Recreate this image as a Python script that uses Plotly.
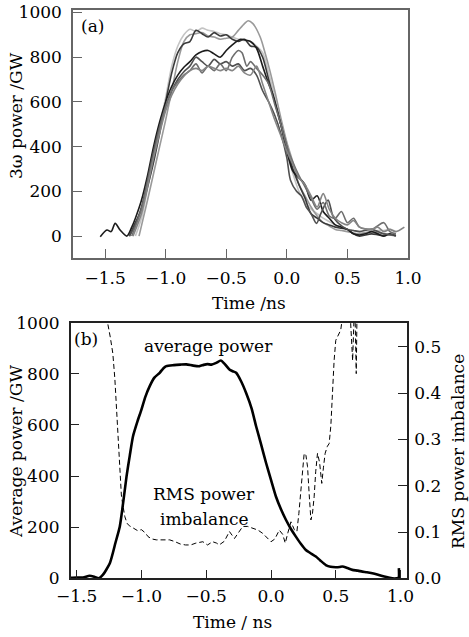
import plotly.graph_objects as go

W, H = 469, 637

# ---------------- panel (a): seven 3w power traces ----------------
a1_t = [-1.25, -1.2, -1.15, -1.1, -1.05, -1.0, -0.95, -0.9, -0.85, -0.8, -0.75, -0.7, -0.65, -0.6, -0.55, -0.5, -0.45, -0.4, -0.35, -0.3, -0.25, -0.2, -0.15, -0.1, -0.05, 0.0, 0.05, 0.1, 0.15, 0.2, 0.25, 0.3, 0.35, 0.4, 0.45, 0.5, 0.55, 0.6, 0.65, 0.7, 0.75, 0.8, 0.85, 0.9]
a1_p = [0, 80, 210, 350, 490, 620, 760, 850, 900, 925, 915, 930, 920, 915, 905, 900, 890, 880, 875, 870, 850, 820, 730, 620, 500, 380, 280, 200, 150, 120, 100, 80, 65, 50, 40, 30, 25, 20, 15, 20, 25, 25, 30, 20]

a2_t = [-1.22, -1.15, -1.1, -1.05, -1.0, -0.95, -0.9, -0.85, -0.8, -0.75, -0.7, -0.65, -0.6, -0.55, -0.5, -0.45, -0.4, -0.35, -0.32, -0.28, -0.22, -0.18, -0.14, -0.1, -0.05, 0.0, 0.05, 0.1, 0.15, 0.2, 0.25, 0.3, 0.35, 0.4, 0.45, 0.5, 0.6, 0.7, 0.75, 0.8, 0.85, 0.9]
a2_p = [0, 160, 280, 400, 520, 650, 780, 870, 900, 905, 910, 895, 890, 880, 885, 890, 920, 950, 963, 950, 890, 820, 740, 650, 530, 420, 330, 230, 180, 130, 90, 60, 45, 30, 25, 20, 10, 20, 15, 10, 5, 0]

a3_t = [-1.3, -1.25, -1.2, -1.15, -1.1, -1.05, -1.0, -0.95, -0.9, -0.85, -0.8, -0.75, -0.7, -0.65, -0.6, -0.55, -0.5, -0.45, -0.4, -0.35, -0.3, -0.25, -0.2, -0.15, -0.1, -0.05, 0.0, 0.05, 0.1, 0.15, 0.2, 0.25, 0.3, 0.35, 0.4, 0.45, 0.5, 0.55, 0.6, 0.7, 0.8]
a3_p = [0, 60, 120, 220, 330, 460, 600, 730, 820, 860, 870, 920, 905, 890, 910, 895, 900, 880, 870, 880, 850, 845, 800, 700, 600, 500, 400, 300, 230, 170, 100, 80, 60, 50, 40, 35, 30, 10, 0, 10, 0]

a4_t = [-1.54, -1.485, -1.45, -1.417, -1.376, -1.32, -1.28, -1.25, -1.2, -1.15, -1.1, -1.05, -1.0, -0.95, -0.9, -0.85, -0.8, -0.75, -0.7, -0.65, -0.6, -0.55, -0.5, -0.45, -0.4, -0.38, -0.33, -0.3, -0.25, -0.2, -0.15, -0.12, -0.05, 0.0, 0.05, 0.1, 0.12, 0.15, 0.2, 0.25, 0.3, 0.35, 0.4, 0.45, 0.5, 0.55, 0.6, 0.65, 0.7, 0.75, 0.8, 0.85, 0.9]
a4_p = [-3, 27, 20, 57, 27, 0, 40, 80, 160, 270, 400, 510, 600, 670, 720, 755, 780, 810, 825, 830, 815, 800, 830, 855, 875, 880, 875, 870, 840, 760, 680, 640, 500, 380, 290, 260, 250, 230, 160, 180, 110, 80, 50, 40, 30, 10, 5, 10, 20, 10, 0, 10, 0]

a5_t = [-1.3, -1.25, -1.2, -1.15, -1.1, -1.05, -1.0, -0.95, -0.9, -0.85, -0.8, -0.75, -0.7, -0.65, -0.6, -0.55, -0.5, -0.45, -0.4, -0.35, -0.3, -0.25, -0.2, -0.15, -0.1, -0.05, 0.0, 0.03, 0.08, 0.12, 0.16, 0.2, 0.245, 0.28, 0.34, 0.38, 0.42, 0.5, 0.55, 0.6, 0.7, 0.8, 0.9]
a5_p = [0, 50, 130, 250, 380, 490, 580, 650, 700, 735, 760, 800, 780, 760, 790, 770, 780, 760, 770, 740, 750, 720, 650, 600, 540, 460, 350, 250, 200, 180, 130, 100, 57, 100, 161, 90, 60, 30, 25, 20, 30, 10, 5]

a6_t = [-1.28, -1.2, -1.15, -1.1, -1.05, -1.0, -0.95, -0.9, -0.85, -0.8, -0.75, -0.7, -0.65, -0.6, -0.55, -0.5, -0.45, -0.4, -0.37, -0.33, -0.3, -0.25, -0.2, -0.15, -0.1, -0.05, 0.0, 0.05, 0.1, 0.15, 0.2, 0.25, 0.3, 0.35, 0.4, 0.45, 0.5, 0.55, 0.6, 0.7, 0.8, 0.85, 0.9]
a6_p = [0, 120, 240, 360, 480, 580, 650, 690, 720, 740, 770, 730, 760, 740, 770, 740, 800, 830, 820, 760, 780, 750, 720, 680, 590, 500, 400, 330, 270, 220, 170, 120, 150, 90, 80, 110, 60, 80, 40, 30, 60, 20, 10]

a7_t = [-1.27, -1.2, -1.15, -1.1, -1.05, -1.0, -0.95, -0.9, -0.85, -0.8, -0.75, -0.7, -0.65, -0.6, -0.55, -0.5, -0.45, -0.4, -0.35, -0.3, -0.25, -0.2, -0.15, -0.1, -0.05, 0.0, 0.05, 0.1, 0.15, 0.2, 0.25, 0.3, 0.35, 0.4, 0.45, 0.5, 0.55, 0.6, 0.7, 0.75, 0.8, 0.85, 0.9, 0.97]
a7_p = [0, 100, 220, 350, 460, 560, 630, 680, 715, 740, 750, 740, 760, 750, 740, 750, 740, 760, 730, 720, 760, 680, 600, 520, 450, 380, 320, 260, 230, 180, 130, 190, 120, 80, 60, 50, 70, 40, 30, 40, 20, 30, 20, 40]

a_colors = ["#c4c4c4", "#9a9a9a", "#3a3a3a", "#1c1c1c", "#505050", "#6e6e6e", "#858585"]

# ---------------- panel (b): average power and RMS imbalance ----------------
avg_t = [-1.55, -1.5, -1.45, -1.4, -1.36, -1.33, -1.3, -1.244, -1.2, -1.167, -1.14, -1.115, -1.09, -1.065, -1.03, -1.0, -0.97, -0.936, -0.9, -0.859, -0.83, -0.808, -0.75, -0.7, -0.654, -0.6, -0.551, -0.52, -0.49, -0.46, -0.423, -0.387, -0.36, -0.321, -0.295, -0.269, -0.23, -0.192, -0.15, -0.115, -0.077, -0.038, 0.0, 0.038, 0.077, 0.115, 0.154, 0.192, 0.23, 0.269, 0.3, 0.346, 0.38, 0.423, 0.46, 0.5, 0.53, 0.551, 0.59, 0.628, 0.67, 0.705, 0.74, 0.782, 0.82, 0.859, 0.9, 0.936, 0.97, 0.985, 0.987]
avg_p = [2, 3, 3, 10, 5, 0, 12, 59, 140, 203, 300, 399, 480, 556, 615, 660, 710, 752, 785, 804, 822, 830, 834, 836, 837, 832, 830, 835, 838, 836, 843, 852, 840, 817, 810, 804, 770, 725, 665, 595, 525, 451, 385, 320, 270, 229, 193, 163, 135, 111, 100, 85, 70, 52, 45, 43, 44, 46, 40, 33, 30, 26, 24, 20, 15, 9, 4, 0, 0, 2, 40]

rms_t = [-1.27, -1.26, -1.24, -1.221, -1.205, -1.192, -1.18, -1.167, -1.155, -1.146, -1.128, -1.11, -1.09, -1.06, -1.03, -1.0, -0.97, -0.949, -0.92, -0.885, -0.84, -0.782, -0.74, -0.70, -0.66, -0.62, -0.58, -0.55, -0.526, -0.49, -0.451, -0.42, -0.4, -0.36, -0.321, -0.282, -0.25, -0.218, -0.18, -0.141, -0.1, -0.064, -0.03, 0.0, 0.03, 0.064, 0.09, 0.11, 0.13, 0.154, 0.18, 0.2, 0.215, 0.231, 0.245, 0.256, 0.27, 0.282, 0.295, 0.308, 0.32, 0.333, 0.345, 0.359, 0.375, 0.392, 0.405, 0.418, 0.435, 0.449, 0.462, 0.474, 0.487, 0.5, 0.52, 0.538, 0.55, 0.565, 0.6, 0.615, 0.63, 0.637, 0.645, 0.65, 0.658, 0.665]
rms_r = [0.60, 0.55, 0.52, 0.486, 0.43, 0.363, 0.29, 0.219, 0.18, 0.162, 0.133, 0.118, 0.113, 0.108, 0.103, 0.105, 0.098, 0.090, 0.085, 0.083, 0.083, 0.083, 0.079, 0.074, 0.072, 0.072, 0.076, 0.078, 0.079, 0.072, 0.079, 0.076, 0.072, 0.08, 0.101, 0.086, 0.098, 0.112, 0.112, 0.108, 0.104, 0.097, 0.088, 0.079, 0.085, 0.104, 0.095, 0.076, 0.098, 0.122, 0.105, 0.101, 0.14, 0.198, 0.25, 0.27, 0.265, 0.241, 0.18, 0.126, 0.14, 0.176, 0.23, 0.27, 0.25, 0.205, 0.24, 0.27, 0.285, 0.291, 0.33, 0.40, 0.47, 0.514, 0.525, 0.536, 0.56, 0.6, 0.6, 0.55, 0.47, 0.55, 0.6, 0.55, 0.442, 0.6]

# ---------------- ticks ----------------
x_ticks = [-1.5, -1.0, -0.5, 0.0, 0.5, 1.0]
x_ticklabels = ["\u22121.5", "\u22121.0", "\u22120.5", "0.0", "0.5", "1.0"]
y_ticks = [0, 200, 400, 600, 800, 1000]
r_ticks = [0.0, 0.1, 0.2, 0.3, 0.4, 0.5]
r_ticklabels = ["0.0", "0.1", "0.2", "0.3", "0.4", "0.5"]

FONT = "DejaVu Serif"
FS = 17

fig = go.Figure()
series_a = [(a1_t, a1_p), (a2_t, a2_p), (a3_t, a3_p), (a4_t, a4_p), (a5_t, a5_p), (a6_t, a6_p), (a7_t, a7_p)]
for (t, p), c in zip(series_a, a_colors):
    fig.add_trace(go.Scatter(x=t, y=p, mode="lines", xaxis="x", yaxis="y",
                             line=dict(color=c, width=1.6, shape="spline", smoothing=0.8),
                             showlegend=False))

fig.add_trace(go.Scatter(x=avg_t, y=avg_p, mode="lines", xaxis="x2", yaxis="y2",
                         line=dict(color="black", width=2.6, shape="spline", smoothing=0.6),
                         showlegend=False))
fig.add_trace(go.Scatter(x=rms_t, y=rms_r, mode="lines", xaxis="x2", yaxis="y3",
                         line=dict(color="black", width=1, dash="5px,3px"),
                         showlegend=False))

def px2x(px):
    return px / W

def py2y(py):
    return 1 - py / H

axis_common = dict(showgrid=False, zeroline=False, showline=True, ticks="inside",
                   ticklen=9, tickwidth=1.2, automargin=False, ticklabeloverflow="allow",
                   tickfont=dict(family=FONT, size=FS, color="black"))

fig.update_layout(
    width=W, height=H,
    margin=dict(l=0, r=0, t=0, b=0, autoexpand=False),
    paper_bgcolor="white", plot_bgcolor="white",
    font=dict(family=FONT, size=FS, color="black"),
    showlegend=False,
    xaxis=dict(domain=[px2x(73), px2x(408)], range=[-1.765, 1.0], anchor="y",
               tickvals=x_ticks, ticktext=x_ticklabels, mirror=True,
               linecolor="#666", tickcolor="#666", linewidth=1.5, ticklabelstandoff=4,
               **axis_common),
    yaxis=dict(domain=[py2y(258), py2y(10)], range=[-98, 1011], anchor="x",
               tickvals=y_ticks, mirror=True, linecolor="#666", tickcolor="#666",
               linewidth=1.5, ticklabelstandoff=6, **axis_common),
    xaxis2=dict(domain=[px2x(70.7), px2x(407.3)], range=[-1.546, 1.052], anchor="y2",
                tickvals=x_ticks, ticktext=x_ticklabels, mirror=True,
                linecolor="#222", tickcolor="#222", linewidth=1.5, ticklabelstandoff=2,
                **axis_common),
    yaxis2=dict(domain=[py2y(578.3), py2y(322.7)], range=[0, 1000], anchor="x2",
                tickvals=y_ticks, mirror=True, linecolor="#222", tickcolor="#222",
                linewidth=1.5, ticklabelstandoff=6, **axis_common),
    yaxis3=dict(overlaying="y2", side="right", anchor="x2", range=[0, 0.552],
                tickvals=r_ticks, ticktext=r_ticklabels, showgrid=False, zeroline=False,
                showline=False, ticks="inside", ticklen=9, tickwidth=1.2, tickcolor="#222",
                ticklabelstandoff=6, automargin=False, ticklabeloverflow="allow",
                tickfont=dict(family=FONT, size=FS, color="black")),
)

def label(text, px, py, angle=0, size=FS, xanchor="center"):
    fig.add_annotation(text=text, x=px2x(px), y=py2y(py), xref="paper", yref="paper",
                       showarrow=False, textangle=angle, xanchor=xanchor, yanchor="middle",
                       font=dict(family=FONT, size=size, color="black"))

label("(a)", 92, 26)
label("(b)", 86, 339)
label("average power", 208, 346)
label("RMS power", 204, 494)
label("imbalance", 204, 519)
label("3\u03c9 power /GW", 16, 116, angle=-90)
label("Time /ns", 249, 303)
label("Average power /GW", 16, 452, angle=-90)
label("RMS power imbalance", 458, 452, angle=-90)
label("Time / ns", 232, 622)

# remove the default page margin so the figure sits at the window's top-left corner
fig.write_html("out.html",
               config={"displayModeBar": False},
               post_script="document.body.style.margin='0';document.body.style.overflow='hidden';")
